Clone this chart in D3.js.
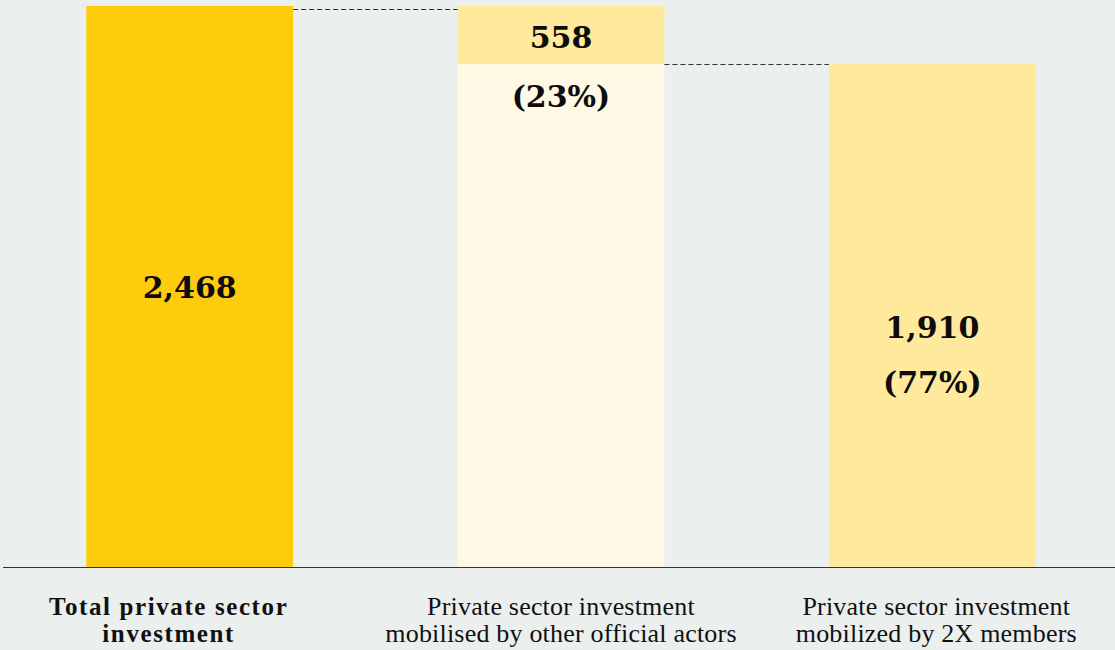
<!DOCTYPE html>
<html>
<head>
<meta charset="utf-8">
<script src="https://cdn.jsdelivr.net/npm/d3@7"></script>
<style>
  html, body { margin: 0; padding: 0; background: #ebefed; }
  svg { display: block; }
</style>
</head>
<body>
<svg id="chart" width="1115" height="650"></svg>
<script>
// ---- Data ----
const categories = ["Total private sector investment",
                    "Private sector investment mobilised by other official actors",
                    "Private sector investment mobilized by 2X members"];
const categoryLines = [["Total private sector", "investment"],
                       ["Private sector investment", "mobilised by other official actors"],
                       ["Private sector investment", "mobilized by 2X members"]];
const totalValue = 2468;
const otherActorsValue = 558;
const twoXValue = 1910;
const otherActorsShare = "(23%)";
const twoXShare = "(77%)";

// waterfall segments built from the values
const segments = [
  { cat: categories[0], start: 0, end: totalValue, color: "#ffcb0d" },
  { cat: categories[1], start: 0, end: twoXValue, color: "#fff8e4" },
  { cat: categories[1], start: twoXValue, end: twoXValue + otherActorsValue, color: "#ffe99c" },
  { cat: categories[2], start: 0, end: twoXValue, color: "#ffe99c" }
];

// ---- Layout ----
const W = 1115, H = 650;
const baseY = 567, topY = 6;
const svg = d3.select("#chart");
svg.append("rect").attr("width", W).attr("height", H).attr("fill", "#ebefed");

const x = d3.scaleBand().domain(categories).range([4, 1118])
  .paddingInner(0.443).paddingOuter(0.2215);
// chart in the source is not drawn to linear scale; a power scale reproduces its proportions
const y = d3.scalePow().exponent(0.426).domain([0, totalValue]).range([baseY, topY]);

svg.selectAll("rect.seg").data(segments).join("rect")
  .attr("class", "seg")
  .attr("x", d => x(d.cat))
  .attr("width", x.bandwidth())
  .attr("y", d => y(d.end))
  .attr("height", d => y(d.start) - y(d.end))
  .attr("fill", d => d.color);

// dashed connectors
const conn = [
  { from: categories[0], to: categories[1], v: totalValue, dy: 3 },
  { from: categories[1], to: categories[2], v: twoXValue, dy: 0 }
];
svg.selectAll("line.conn").data(conn).join("line")
  .attr("x1", d => x(d.from) + x.bandwidth())
  .attr("x2", d => x(d.to))
  .attr("y1", d => Math.round(y(d.v) + d.dy) + 0.5)
  .attr("y2", d => Math.round(y(d.v) + d.dy) + 0.5)
  .attr("stroke", "#333")
  .attr("stroke-width", 1)
  .attr("stroke-dasharray", "5,3");

// baseline
svg.append("line")
  .attr("x1", 3).attr("x2", W)
  .attr("y1", baseY + 0.5).attr("y2", baseY + 0.5)
  .attr("stroke", "#333").attr("stroke-width", 1);

// value labels
const valFont = "'DejaVu Serif', serif";
const fmt = d3.format(",");
const cx = c => x(c) + x.bandwidth() / 2;
const valueLabels = [
  { c: categories[0], t: fmt(totalValue), yy: (y(0) + y(totalValue)) / 2 + 11 },
  { c: categories[1], t: fmt(otherActorsValue), yy: (y(twoXValue) + y(totalValue)) / 2 + 13 },
  { c: categories[1], t: otherActorsShare, yy: y(twoXValue) + 43 },
  { c: categories[2], t: fmt(twoXValue), yy: (y(0) + y(twoXValue)) / 2 + 22 },
  { c: categories[2], t: twoXShare, yy: (y(0) + y(twoXValue)) / 2 + 77 }
];
svg.selectAll("text.val").data(valueLabels).join("text")
  .attr("class", "val")
  .attr("x", d => cx(d.c))
  .attr("y", d => d.yy)
  .attr("text-anchor", "middle")
  .attr("font-family", valFont)
  .attr("font-weight", "bold")
  .attr("font-size", 30)
  .attr("fill", "#0d0d0d")
  .text(d => d.t);

// category labels
const labelShift = [-21, 0, 4];
const catFont = "'Liberation Serif', 'Times New Roman', serif";
categories.forEach((c, i) => {
  categoryLines[i].forEach((ln, j) => {
    svg.append("text")
      .attr("text-anchor", "middle")
      .attr("font-family", catFont)
      .attr("font-size", i === 0 ? 25 : 26)
      .attr("letter-spacing", i === 0 ? 1.6 : 0.2)
      .attr("font-weight", i === 0 ? "bold" : "normal")
      .attr("fill", "#111")
      .attr("x", cx(c) + labelShift[i])
      .attr("y", 615 + j * 27)
      .text(ln);
  });
});
</script>
</body>
</html>
